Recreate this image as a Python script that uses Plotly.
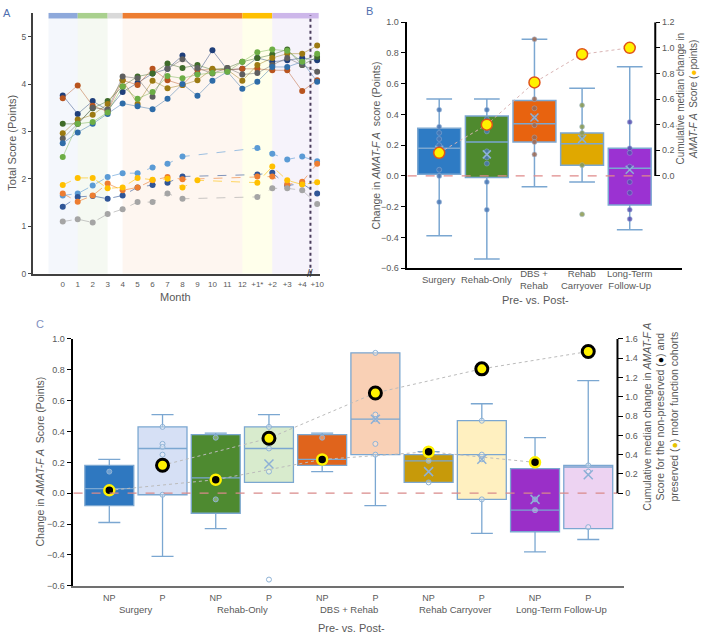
import plotly.graph_objects as go

W, H = 705, 638
def px(x): return x / W
def py(y): return 1 - y / H

# ---------------- Panel A data ----------------
A_months = ["0","1","2","3","4","5","6","7","8","9","10","11","12","+1*","+2","+3","+4","+10"]
A_navy   = [3.76,3.37,3.64,3.45,3.83,4.02,4.22,4.32,4.60,4.22,4.71,4.30,4.32,4.55,4.47,4.50,4.55,4.50]
A_brown  = [3.70,3.97,3.54,3.42,4.08,3.98,4.32,4.08,3.98,4.30,4.30,4.30,4.32,4.32,4.29,4.29,3.85,4.08]
A_dkgrn  = [3.16,3.16,3.49,3.64,3.95,4.16,4.22,4.43,4.34,4.40,4.30,4.34,4.47,4.55,4.62,4.73,4.40,4.57]
A_olive  = [2.96,3.25,3.35,3.58,4.08,3.58,4.07,3.91,3.98,4.08,4.32,4.30,4.07,4.40,4.55,4.64,4.64,4.81]
A_gray   = [2.85,3.16,3.50,3.46,4.16,4.12,3.73,4.32,4.52,4.34,4.22,4.34,4.20,4.23,4.40,4.55,4.40,4.26]
A_blue   = [2.75,2.98,3.16,3.37,3.59,3.53,3.47,3.69,4.00,3.75,4.07,4.26,3.90,4.05,4.36,4.36,4.47,4.05]
A_green  = [2.46,3.16,3.20,3.40,3.95,3.69,3.83,4.17,4.12,4.20,4.23,4.26,4.47,4.67,4.73,4.70,4.47,4.64]

A_lb    = [1.65,1.69,1.86,2.04,2.12,2.12,2.24,2.32,2.47,None,None,None,None,2.65,2.53,2.41,2.47,2.37]
A_db    = [1.41,1.62,1.64,1.58,1.65,1.82,1.87,1.92,2.05,None,None,None,None,2.09,2.13,1.86,1.90,1.69]
A_or    = [1.69,1.52,1.65,1.90,1.76,1.82,1.97,2.04,1.99,None,None,None,None,2.05,2.05,1.88,1.94,2.32]
A_gold  = [1.87,2.02,2.02,1.80,1.82,2.02,1.98,2.00,1.82,1.97,None,None,None,1.92,2.26,1.97,1.88,1.93]
A_lgray = [1.10,1.15,1.08,1.26,1.36,1.51,1.51,1.69,1.58,None,None,None,None,1.62,1.80,1.80,1.76,1.47]

# ---------------- Panel B data ----------------
B_cats   = ["Surgery", "Rehab-Only", "DBS +<br>Rehab", "Rehab<br>Carryover", "Long-Term<br>Follow-Up"]
B_q1     = [0.01, -0.01, 0.22, 0.07, -0.19]
B_median = [0.18, 0.22, 0.34, 0.21, 0.05]
B_q3     = [0.31, 0.39, 0.49, 0.28, 0.18]
B_low    = [-0.39, -0.54, -0.07, -0.04, -0.35]
B_high   = [0.50, 0.50, 0.89, 0.57, 0.71]
B_mean   = [0.17, 0.14, 0.38, 0.24, 0.04]
B_points = [
    [0.43, 0.32, 0.28, 0.24, 0.20, 0.04, 0.0, -0.17],
    [0.43, 0.37, 0.29, 0.16, 0.12, 0.08, -0.04, -0.22],
    [0.89, 0.50, 0.44, 0.38, 0.33, 0.25, 0.22, 0.14],
    [0.46, 0.32, 0.28, 0.25, 0.07, -0.25],
    [0.35, 0.18, 0.15, 0.06, -0.04, -0.11, -0.22, -0.28],
]
B_cumulative = [0.18, 0.40, 0.73, 0.95, 1.00]

# ---------------- Panel C data ----------------
C_ticks  = ["NP", "P"] * 5
C_groups = ["Surgery", "Rehab-Only", "DBS + Rehab", "Rehab Carryover", "Long-Term Follow-Up"]
C_q1     = [-0.08, -0.01, -0.13, 0.07, 0.18, 0.25, 0.07, -0.04, -0.25, -0.23]
C_median = [0.03, 0.29, 0.10, 0.29, 0.22, 0.48, 0.21, 0.25, -0.11, 0.17]
C_q3     = [0.18, 0.43, 0.38, 0.43, 0.38, 0.91, 0.25, 0.47, 0.16, 0.18]
C_low    = [-0.19, -0.41, -0.23, 0.07, 0.14, -0.08, 0.07, -0.26, -0.38, -0.30]
C_high   = [0.22, 0.51, 0.39, 0.51, 0.39, 0.91, 0.27, 0.58, 0.36, 0.73]
C_mean   = [None, None, None, 0.19, None, 0.48, 0.14, 0.22, -0.04, 0.12]
C_points = [
    [0.14], [0.43, 0.32, 0.30, 0.25, -0.01], [0.36, -0.04], [0.43, 0.29, 0.14, -0.56],
    [0.36], [0.91, 0.51, 0.48, 0.32, 0.25], [0.21, 0.07], [0.47, 0.25, 0.22, -0.04],
    [-0.04, -0.11], [0.18, 0.14, -0.22],
]
C_cum_np = [0.03, 0.14, 0.35, 0.43, 0.32]
C_cum_p  = [0.29, 0.57, 1.04, 1.29, 1.47]

# ---------------- styles ----------------
upper_colors = ["#1F3F7A", "#B8541E", "#3F6B2A", "#9C7A12", "#5F5F5F", "#2E6CA8", "#6DAE45"]
lower_colors = ["#5B9BD5", "#2F5597", "#ED7D31", "#FFC000", "#A5A5A5"]
B_fill = ["#2E7BC4", "#4F8A2E", "#E8630F", "#E0A800", "#9B32D2"]
B_dot  = ["#4A78B5", "#4A78B5", "#9C6A55", "#8A9A50", "#5A50B0"]
C_fill = ["#2F78C0", "#D6E0F5", "#4E8A30", "#D8EBCD", "#E0641C",
          "#F9D0B5", "#C79A0A", "#FFF0C0", "#9A2FC8", "#EDD3F2"]
box_line = "#7BA7D1"

def hexa(c, a):
    c = c.lstrip("#")
    return "rgba(%d,%d,%d,%.2f)" % (int(c[0:2], 16), int(c[2:4], 16), int(c[4:6], 16), a)

fig = go.Figure()
xs = list(range(len(A_months)))

for vals, col in zip([A_navy, A_brown, A_dkgrn, A_olive, A_gray, A_blue, A_green], upper_colors):
    fig.add_trace(go.Scatter(x=xs, y=vals, mode="lines+markers", xaxis="x", yaxis="y",
                             line=dict(color=hexa(col, 0.45), width=1),
                             marker=dict(color=col, size=6)))
for vals, col in zip([A_lb, A_db, A_or, A_gold, A_lgray], lower_colors):
    fig.add_trace(go.Scatter(x=xs, y=vals, mode="lines+markers", xaxis="x", yaxis="y",
                             connectgaps=True,
                             line=dict(color=hexa(col, 0.6), width=1, dash="dash"),
                             marker=dict(color=col, size=6)))

# Panel B boxes
for i in range(len(B_cats)):
    fig.add_trace(go.Box(x=[i], q1=[B_q1[i]], median=[B_median[i]], q3=[B_q3[i]],
                         lowerfence=[B_low[i]], upperfence=[B_high[i]],
                         fillcolor=B_fill[i], line=dict(color=box_line, width=1.5),
                         width=0.9, whiskerwidth=0.6, boxpoints=False,
                         xaxis="x2", yaxis="y2"))
    fig.add_trace(go.Scatter(x=[i] * len(B_points[i]), y=B_points[i], mode="markers",
                             xaxis="x2", yaxis="y2",
                             marker=dict(color=B_dot[i], size=5, opacity=0.85,
                                         line=dict(color="#9DB8DA", width=0.5))))
fig.add_trace(go.Scatter(x=list(range(len(B_cats))), y=B_mean, mode="markers",
                         xaxis="x2", yaxis="y2",
                         marker=dict(symbol="x-thin", size=8, line=dict(color="#8DB0D6", width=1.5))))
fig.add_trace(go.Scatter(x=list(range(len(B_cats))), y=B_cumulative, mode="lines+markers",
                         xaxis="x2", yaxis="y3",
                         line=dict(color="#D9B4B4", width=1, dash="dot"),
                         marker=dict(color="#FFF200", size=11, line=dict(color="#E0531A", width=1.5))))

# Panel C boxes
for i in range(len(C_ticks)):
    fig.add_trace(go.Box(x=[i], q1=[C_q1[i]], median=[C_median[i]], q3=[C_q3[i]],
                         lowerfence=[C_low[i]], upperfence=[C_high[i]],
                         fillcolor=C_fill[i], line=dict(color=box_line, width=1.3),
                         width=0.92, whiskerwidth=0.45, boxpoints=False,
                         xaxis="x3", yaxis="y4"))
    fig.add_trace(go.Scatter(x=[i] * len(C_points[i]), y=C_points[i], mode="markers",
                             xaxis="x3", yaxis="y4",
                             marker=dict(color="rgba(255,255,255,0.3)", size=5,
                                         line=dict(color="#8FB3D6", width=1))))
fig.add_trace(go.Scatter(x=list(range(len(C_ticks))), y=C_mean, mode="markers",
                         xaxis="x3", yaxis="y4",
                         marker=dict(symbol="x-thin", size=9, line=dict(color="#8DB0D6", width=1.5))))
fig.add_trace(go.Scatter(x=[0, 2, 4, 6, 8], y=C_cum_np, mode="lines+markers",
                         xaxis="x3", yaxis="y5",
                         line=dict(color="#BBBBBB", width=1, dash="dot"),
                         marker=dict(color="black", size=10, line=dict(color="#FFF200", width=2.5))))
fig.add_trace(go.Scatter(x=[1, 3, 5, 7, 9], y=C_cum_p, mode="lines+markers",
                         xaxis="x3", yaxis="y5",
                         line=dict(color="#BBBBBB", width=1, dash="dot"),
                         marker=dict(color="#FFF200", size=12, line=dict(color="black", width=3))))

# ---------------- shapes ----------------
shapes = []
bands = [(-0.95, 1, "#8EA9DB", "rgba(68,114,196,0.06)"),
         (1, 3, "#A9D08E", "rgba(112,173,71,0.07)"),
         (3, 4, "#D9D9D9", None),
         (4, 12, "#ED7D31", "rgba(237,125,49,0.07)"),
         (12, 14, "#FFC000", "rgba(255,255,0,0.08)"),
         (14, 17.1, "#CDB7EA", "rgba(180,160,225,0.12)")]
for x0, x1, top, fill in bands:
    if fill:
        shapes.append(dict(type="rect", xref="x", yref="y", x0=x0, x1=x1, y0=0, y1=5.38,
                           fillcolor=fill, line=dict(width=0), layer="below"))
    shapes.append(dict(type="rect", xref="x", yref="y", x0=x0, x1=x1, y0=5.38, y1=5.5,
                       fillcolor=top, line=dict(width=0), layer="below"))
shapes.append(dict(type="line", xref="x", yref="y", x0=16.55, x1=16.55, y0=0, y1=5.45,
                   line=dict(color="#4A3D5C", width=2, dash="3px,3px")))
shapes.append(dict(type="line", xref="paper", yref="y2", x0=px(410), x1=px(659), y0=0, y1=0,
                   line=dict(color="#E08A8A", width=1.3, dash="dash")))
shapes.append(dict(type="line", xref="paper", yref="y4", x0=px(74), x1=px(621), y0=0, y1=0,
                   line=dict(color="#D98A8A", width=1.3, dash="dash")))
shapes.append(dict(type="line", xref="paper", yref="y3", x0=px(659), x1=px(659), y0=0, y1=1.2,
                   line=dict(color="black", width=2)))
shapes.append(dict(type="line", xref="paper", yref="y5", x0=px(621), x1=px(621), y0=0, y1=1.6,
                   line=dict(color="black", width=2)))

# ---------------- annotations ----------------
FONT = "Liberation Sans, Arial, sans-serif"
def ann(x, y, text, size=10, color="#595959", angle=0, **kw):
    return dict(x=px(x), y=py(y), xref="paper", yref="paper", text=text, showarrow=False,
                textangle=angle, font=dict(size=size, color=color, family=FONT),
                xanchor="center", yanchor="middle", **kw)

anns = [
    ann(7, 8, "A", 11, "#4F6FAF"),
    ann(372, 6, "B", 11, "#4F6FAF"),
    ann(40, 324, "C", 11, "#7F8FC0"),
    ann(12, 140, "Total Score (Points)", 11, angle=-90),
    ann(177, 297, "Month", 11),
    ann(312, 273, "//", 10, "#333333"),
    ann(378, 143, "Change in <i>AMAT-F A</i>  score (Points)", 10.5, angle=-90),
    ann(690, 95, "Cumulative median change in<br><i>AMAT-F A</i>  Score (<span style='color:#FFC000'>●</span>points)",
        10, angle=-90),
    ann(539, 300, "Pre- vs. Post-", 11),
    ann(40, 464, "Change in <i>AMAT-F A</i>  Score (Points)", 10.5, angle=-90),
    ann(664, 418, "Cumulative median change in <i>AMAT-F A</i><br>Score for the non-preserved (<span style='color:black'>●</span>) and<br>preserved (<span style='color:#E6C200'>●</span>) motor function cohorts",
        10.5, angle=-90),
    ann(354, 633, "Pre- vs. Post-", 11),
]
for k, lab in enumerate(B_cats):
    anns.append(dict(x=k, y=py(279), xref="x2", yref="paper", text=lab, showarrow=False,
                     font=dict(size=9.5, color="#595959", family=FONT),
                     xanchor="center", yanchor="middle"))
for k, g in enumerate(C_groups):
    anns.append(dict(x=2 * k + 0.5, y=py(614), xref="x3", yref="paper", text=g, showarrow=False,
                     font=dict(size=9.5, color="#595959", family=FONT),
                     xanchor="center", yanchor="middle"))

axis_font = dict(size=9, color="#595959", family=FONT)
fig.update_layout(
    width=W, height=H, margin=dict(l=0, r=0, t=0, b=0),
    paper_bgcolor="white", plot_bgcolor="rgba(0,0,0,0)", showlegend=False,
    font=dict(family=FONT, color="#595959", size=9),
    boxmode="overlay",
    shapes=shapes, annotations=anns,
    xaxis=dict(domain=[px(33), px(322)], range=[-2, 17.2], anchor="y",
               tickvals=xs, ticktext=A_months, tickfont=dict(size=8, color="#595959", family=FONT),
               showline=True, linecolor="#404040", linewidth=2, ticks="outside", ticklen=2,
               tickcolor="rgba(0,0,0,0)", showgrid=False, zeroline=False),
    yaxis=dict(domain=[py(273), py(8)], range=[0, 5.5], anchor="x",
               tickvals=[0, 1, 2, 3, 4, 5], tickfont=dict(size=8.5, color="#595959", family=FONT),
               showline=True, linecolor="#404040", linewidth=2, ticks="outside", ticklen=3,
               tickcolor="#404040", showgrid=False, zeroline=False),
    xaxis2=dict(domain=[px(409), px(686)], range=[-0.683, 5.10], anchor="y2",
                tickvals=list(range(5)), showticklabels=False,
                showline=True, linecolor="black", linewidth=2, ticks="", showgrid=False, zeroline=False),
    yaxis2=dict(domain=[py(267.3), py(17.5)], range=[-0.6, 1.0], anchor="x2",
                tickvals=[-0.6, -0.4, -0.2, 0, 0.2, 0.4, 0.6, 0.8, 1.0], tickformat=".1f",
                tickfont=axis_font, showline=True, linecolor="black", linewidth=2,
                ticks="outside", ticklen=4, tickcolor="black", showgrid=False, zeroline=False),
    yaxis3=dict(overlaying="y2", side="right", anchor="free", position=px(659),
                range=[-0.72, 1.2], tickvals=[0, 0.2, 0.4, 0.6, 0.8, 1.0, 1.2], tickformat=".1f",
                tickfont=axis_font, showline=False, ticks="outside", ticklen=4, tickcolor="black",
                showgrid=False, zeroline=False),
    xaxis3=dict(domain=[px(73), px(628)], range=[-0.69, 9.68], anchor="y4",
                tickvals=list(range(10)), ticktext=C_ticks, tickfont=axis_font,
                showline=True, linecolor="#707070", linewidth=1.5, ticks="outside", ticklen=3,
                tickcolor="rgba(0,0,0,0)", showgrid=False, zeroline=False),
    yaxis4=dict(domain=[py(590), py(339.3)], range=[-0.6, 1.0], anchor="x3",
                tickvals=[-0.6, -0.4, -0.2, 0, 0.2, 0.4, 0.6, 0.8, 1.0], tickformat=".1f",
                tickfont=axis_font, showline=True, linecolor="black", linewidth=2,
                ticks="outside", ticklen=4, tickcolor="black", showgrid=False, zeroline=False),
    yaxis5=dict(overlaying="y4", side="right", anchor="free", position=px(621),
                range=[-0.96, 1.6], tickvals=[0, 0.2, 0.4, 0.6, 0.8, 1.0, 1.2, 1.4, 1.6],
                ticktext=["0", "0.2", "0.4", "0.6", "0.8", "1.0", "1.2", "1.4", "1.6"],
                tickfont=axis_font, showline=False, ticks="outside", ticklen=5, tickcolor="black",
                showgrid=False, zeroline=False),
)

fig.write_html("out.html", config={"displayModeBar": False},
               post_script="document.body.style.margin='0';document.body.style.padding='0';"
                           "document.body.style.overflow='hidden';")
